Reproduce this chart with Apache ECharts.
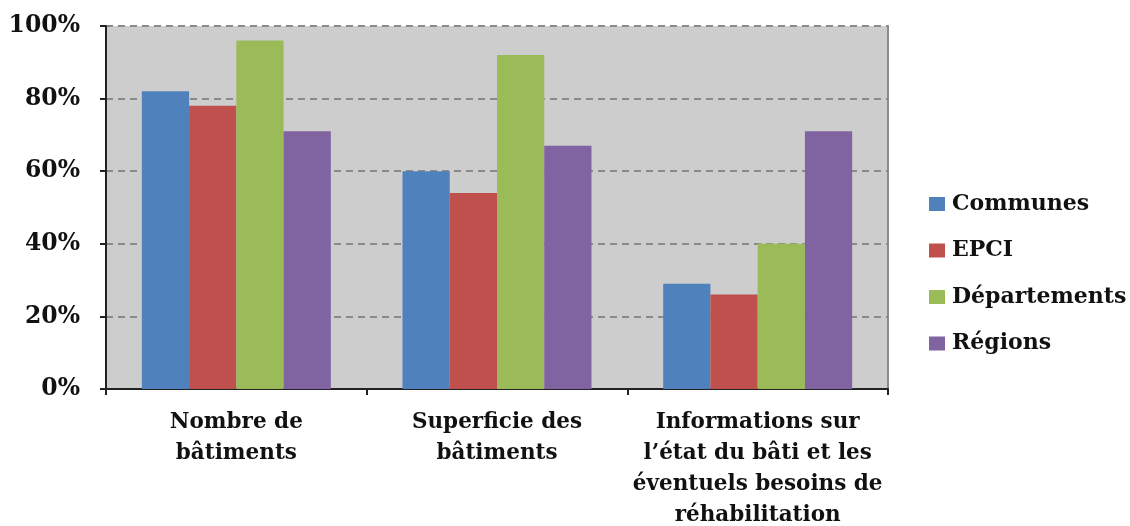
<!DOCTYPE html>
<html>
<head>
<meta charset="utf-8">
<script src="https://cdn.jsdelivr.net/npm/echarts@6/dist/echarts.min.js"></script>
<style>html,body{margin:0;padding:0;background:#fff;}#c{width:1130px;height:526px;}</style>
</head>
<body>
<div id="c"></div>
<script>
const categories = ["Nombre de\nbâtiments", "Superficie des\nbâtiments", "Informations sur\nl’état du bâti et les\néventuels besoins de\nréhabilitation"];
const seriesNames = ["Communes", "EPCI", "Départements", "Régions"];
const communes = [82, 60, 29];
const epci = [78, 54, 26];
const departements = [96, 92, 40];
const regions = [71, 67, 71];
const yTicks = [0, 20, 40, 60, 80, 100];

const colors = ["#4f81bd", "#c0504d", "#9bbb59", "#8064a2"];
const font = "'DejaVu Serif', 'Liberation Serif', serif";
const values = [communes, epci, departements, regions];

const chart = echarts.init(document.getElementById('c'));
chart.setOption({
  animation: false,
  color: colors,
  grid: {left: 106, right: 242, top: 26, bottom: 137, show: true, backgroundColor: '#cdcdcd', borderWidth: 0, outerBoundsMode: 'none', containLabel: false},
  legend: {
    orient: 'vertical', left: 924, top: 188, itemGap: 24.5,
    itemWidth: 16, itemHeight: 14, icon: 'rect',
    textStyle: {fontFamily: font, fontWeight: 'bold', fontSize: 22, color: '#111', padding: [0, 0, 0, 2]},
    data: seriesNames
  },
  xAxis: {
    type: 'category', data: categories,
    axisLine: {lineStyle: {color: '#222', width: 2}},
    axisTick: {show: true, inside: false, length: 6, lineStyle: {color: '#222', width: 2}},
    axisLabel: {interval: 0, fontFamily: font, fontWeight: 'bold', fontSize: 21.5, color: '#111', lineHeight: 31, margin: 18}
  },
  yAxis: [{
    type: 'value', min: 0, max: 100, interval: 20,
    axisLine: {show: true, lineStyle: {color: '#222', width: 2}},
    axisTick: {show: true, length: 6, lineStyle: {color: '#222', width: 2}},
    axisLabel: {fontFamily: font, fontWeight: 'bold', fontSize: 23.5, color: '#111', margin: 26,
      formatter: v => yTicks.includes(v) ? v + '%' : ''},
    splitLine: {show: true, lineStyle: {color: '#8a8a8a', type: [7, 5], width: 2}}
  }, {
    type: 'value', min: 0, max: 100, interval: 20, position: 'right',
    axisLine: {show: true, lineStyle: {color: '#8a8a8a', width: 2}},
    axisTick: {show: false}, axisLabel: {show: false}, splitLine: {show: false}
  }],
  series: seriesNames.map((n, i) => ({
    name: n, type: 'bar', data: values[i], barGap: '0%', barCategoryGap: '27.5%'
  }))
});
</script>
</body>
</html>
